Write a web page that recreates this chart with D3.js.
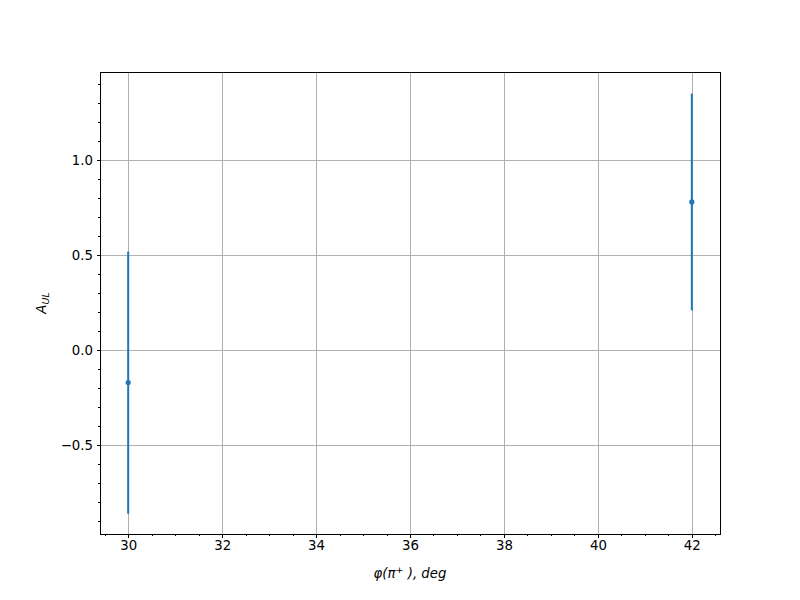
<!DOCTYPE html>
<html><head><meta charset="utf-8">
<script src="https://cdn.jsdelivr.net/npm/d3@7"></script>
<style>body{margin:0;background:#fff}text{font-family:"DejaVu Sans",sans-serif}</style>
</head><body>
<svg id="c" width="800" height="600"></svg>
<script>
const xValues = [30, 42];
const yValues = [-0.17, 0.78];
const yErrors = [0.69, 0.57];
const xTicks = [30, 32, 34, 36, 38, 40, 42];
const yTicks = [-0.5, 0.0, 0.5, 1.0];

const svg = d3.select("#c");
const L = 100, R = 720, T = 72, B = 534;
const x = d3.scaleLinear().domain([29.4, 42.6]).range([L, R]);
const y = d3.scaleLinear().domain([-0.9665, 1.4635]).range([B, T]);

const g = svg.append("g").attr("shape-rendering", "crispEdges");
// grid
g.selectAll(".gx").data(xTicks).enter().append("line")
  .attr("x1", d => Math.round(x(d)) + 0.5).attr("x2", d => Math.round(x(d)) + 0.5).attr("y1", T).attr("y2", B)
  .attr("stroke", "#b0b0b0").attr("stroke-width", 1);
g.selectAll(".gy").data(yTicks).enter().append("line")
  .attr("y1", d => Math.round(y(d)) + 0.5).attr("y2", d => Math.round(y(d)) + 0.5).attr("x1", L).attr("x2", R)
  .attr("stroke", "#b0b0b0").attr("stroke-width", 1);

// error bars
const color = "#1f77b4";
const m = svg.append("g");
xValues.forEach((xv, i) => {
  m.append("line").attr("x1", x(xv)).attr("x2", x(xv))
    .attr("y1", y(yValues[i] - yErrors[i])).attr("y2", y(yValues[i] + yErrors[i]))
    .attr("stroke", color).attr("stroke-width", 2);
  m.append("circle").attr("cx", x(xv)).attr("cy", y(yValues[i])).attr("r", 2.6).attr("fill", color);
});

// axes
const fmtY = d => d3.format(".1f")(d).replace("-", "\u2212");
const xMinor = d3.range(29.5, 42.6, 0.5).filter(v => !xTicks.includes(v));
const yMinor = d3.range(-0.9, 1.45, 0.1).map(v => Math.round(v * 10) / 10).filter(v => !yTicks.some(t => Math.abs(t - v) < 1e-9));

const xAxis = svg.append("g").attr("transform", `translate(0,${B})`)
  .call(d3.axisBottom(x).tickValues(xTicks).tickFormat(d3.format("d")).tickSize(3.5).tickPadding(3.5));
const xAxisMinor = svg.append("g").attr("transform", `translate(0,${B})`)
  .call(d3.axisBottom(x).tickValues(xMinor).tickFormat("").tickSize(2));
const yAxis = svg.append("g").attr("transform", `translate(${L},0)`)
  .call(d3.axisLeft(y).tickValues(yTicks).tickFormat(fmtY).tickSize(3.5).tickPadding(3.5));
const yAxisMinor = svg.append("g").attr("transform", `translate(${L},0)`)
  .call(d3.axisLeft(y).tickValues(yMinor).tickFormat("").tickSize(2));
[xAxis, xAxisMinor, yAxis, yAxisMinor].forEach(a => {
  a.select(".domain").remove();
  a.selectAll("line").attr("stroke", "#000").attr("stroke-width", 1).attr("shape-rendering", "crispEdges");
  a.selectAll("text").attr("font-size", "13.3px").attr("fill", "#000").attr("font-family", "DejaVu Sans");
});

// frame
svg.append("rect").attr("x", L + 0.5).attr("y", T + 0.5).attr("width", R - L).attr("height", B - T)
  .attr("fill", "none").attr("stroke", "#000").attr("stroke-width", 1).attr("shape-rendering", "crispEdges");

// labels
const xl = svg.append("text").attr("x", (L + R) / 2).attr("y", 578).attr("text-anchor", "middle")
  .attr("font-size", "13.3px").attr("font-style", "italic");
xl.append("tspan").text("φ(π");
xl.append("tspan").attr("dy", -5).attr("font-size", "9.5px").attr("font-style", "normal").text("+");
xl.append("tspan").attr("dy", 5).text(" ), deg");

const yl = svg.append("text").attr("transform", `translate(46,${(T + B) / 2}) rotate(-90)`)
  .attr("text-anchor", "middle").attr("font-size", "13.3px").attr("font-style", "italic");
yl.append("tspan").text("A");
yl.append("tspan").attr("dy", 3).attr("font-size", "9.5px").text("UL");
</script>
</body></html>
